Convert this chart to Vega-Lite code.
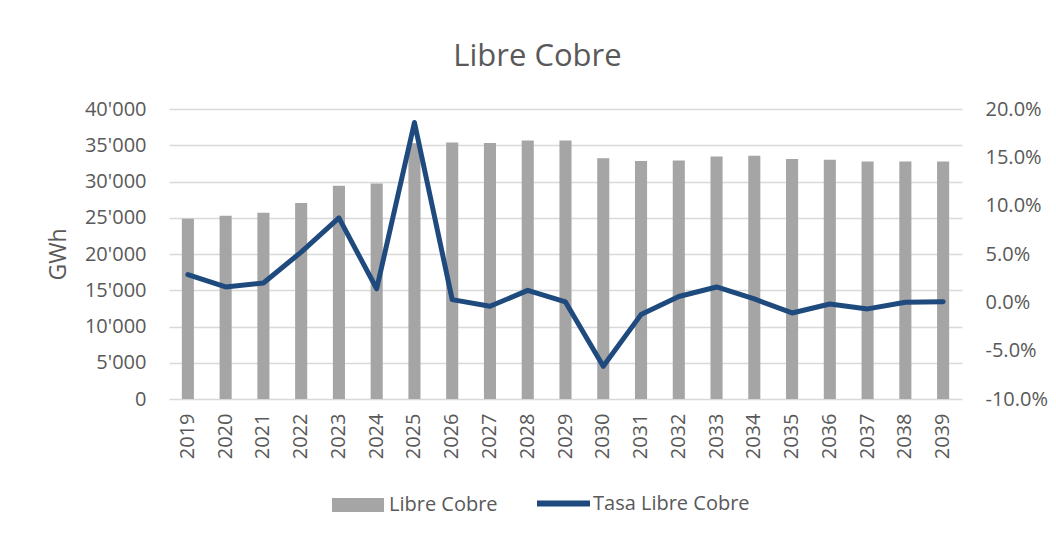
{
  "$schema": "https://vega.github.io/schema/vega-lite/v6.json",
  "width": 793,
  "height": 290,
  "autosize": {"type": "none"},
  "padding": {"left": 169, "top": 109, "right": 94, "bottom": 137},
  "background": "white",
  "config": {
    "font": "Open Sans",
    "view": {"stroke": null},
    "locale": {"number": {"decimal": ".", "thousands": "'", "grouping": [3], "currency": ["", ""], "minus": "-"}}
  },
  "title": {
    "text": "Libre Cobre",
    "fontSize": 31,
    "fontWeight": "normal",
    "color": "#595959",
    "anchor": "middle",
    "frame": "group",
    "dx": -28,
    "offset": 26
  },
  "data": {
    "values": [
      {"year": "2019", "gwh": 24870, "tasa": 0.0286},
      {"year": "2020", "gwh": 25280, "tasa": 0.0159},
      {"year": "2021", "gwh": 25700, "tasa": 0.020},
      {"year": "2022", "gwh": 27030, "tasa": 0.052},
      {"year": "2023", "gwh": 29420, "tasa": 0.0873},
      {"year": "2024", "gwh": 29740, "tasa": 0.014},
      {"year": "2025", "gwh": 35290, "tasa": 0.186},
      {"year": "2026", "gwh": 35390, "tasa": 0.0028},
      {"year": "2027", "gwh": 35310, "tasa": -0.0041},
      {"year": "2028", "gwh": 35670, "tasa": 0.0124},
      {"year": "2029", "gwh": 35670, "tasa": 0.0004},
      {"year": "2030", "gwh": 33190, "tasa": -0.0662},
      {"year": "2031", "gwh": 32830, "tasa": -0.0127},
      {"year": "2032", "gwh": 32910, "tasa": 0.006},
      {"year": "2033", "gwh": 33460, "tasa": 0.0159},
      {"year": "2034", "gwh": 33560, "tasa": 0.0035},
      {"year": "2035", "gwh": 33100, "tasa": -0.011},
      {"year": "2036", "gwh": 33010, "tasa": -0.0017},
      {"year": "2037", "gwh": 32770, "tasa": -0.0068},
      {"year": "2038", "gwh": 32770, "tasa": 0.0},
      {"year": "2039", "gwh": 32770, "tasa": 0.0007}
    ]
  },
  "encoding": {
    "x": {
      "field": "year",
      "type": "ordinal",
      "scale": {"paddingInner": 0.68, "paddingOuter": 0.34},
      "axis": {
        "title": null,
        "labelAngle": -90,
        "labelFontSize": 20,
        "labelColor": "#595959",
        "labelPadding": 14,
        "ticks": false,
        "domain": false
      }
    }
  },
  "layer": [
    {
      "mark": {"type": "bar", "color": "#a5a5a5"},
      "encoding": {
        "y": {
          "field": "gwh",
          "type": "quantitative",
          "scale": {"domain": [0, 40000], "nice": false},
          "axis": {
            "title": "GWh",
            "titleFontSize": 23,
            "titleFontWeight": "normal",
            "titleColor": "#595959",
            "titlePadding": 14,
            "values": [0, 5000, 10000, 15000, 20000, 25000, 30000, 35000, 40000],
            "format": ",d",
            "labelFontSize": 20,
            "labelColor": "#595959",
            "labelPadding": 23,
            "ticks": false,
            "domain": false,
            "grid": true,
            "gridColor": "#d9d9d9",
            "gridWidth": 1.5
          }
        },
        "fill": {
          "datum": "Libre Cobre",
          "type": "nominal",
          "scale": {"domain": ["Libre Cobre"], "range": ["#a5a5a5"]},
          "legend": {
            "title": null,
            "orient": "none",
            "legendX": 163,
            "legendY": 370,
            "padding": 0,
            "symbolType": "M-1,-0.27L1,-0.27L1,0.27L-1,0.27Z",
            "symbolSize": 2704,
            "symbolStrokeWidth": 0,
            "labelOffset": 5,
            "labelFontSize": 20,
            "labelColor": "#595959"
          }
        }
      }
    },
    {
      "mark": {"type": "line", "strokeWidth": 5, "strokeCap": "round", "strokeJoin": "round"},
      "encoding": {
        "y": {
          "field": "tasa",
          "type": "quantitative",
          "scale": {"domain": [-0.1, 0.2], "nice": false},
          "axis": {
            "orient": "right",
            "title": null,
            "values": [-0.1, -0.05, 0, 0.05, 0.1, 0.15, 0.2],
            "format": ".1%",
            "labelFontSize": 20,
            "labelColor": "#595959",
            "labelPadding": 23,
            "ticks": false,
            "domain": false,
            "grid": false
          }
        },
        "stroke": {
          "datum": "Tasa Libre Cobre",
          "type": "nominal",
          "scale": {"domain": ["Tasa Libre Cobre"], "range": ["#1F4A7D"]},
          "legend": {
            "title": null,
            "orient": "none",
            "legendX": 365,
            "legendY": 365,
            "padding": 0,
            "symbolType": "stroke",
            "symbolSize": 2809,
            "symbolStrokeWidth": 6,
            "labelOffset": 0,
            "labelFontSize": 20,
            "labelColor": "#595959",
            "symbolStrokeColor": "#1F4A7D"
          }
        }
      }
    }
  ],
  "resolve": {"scale": {"y": "independent"}}
}
